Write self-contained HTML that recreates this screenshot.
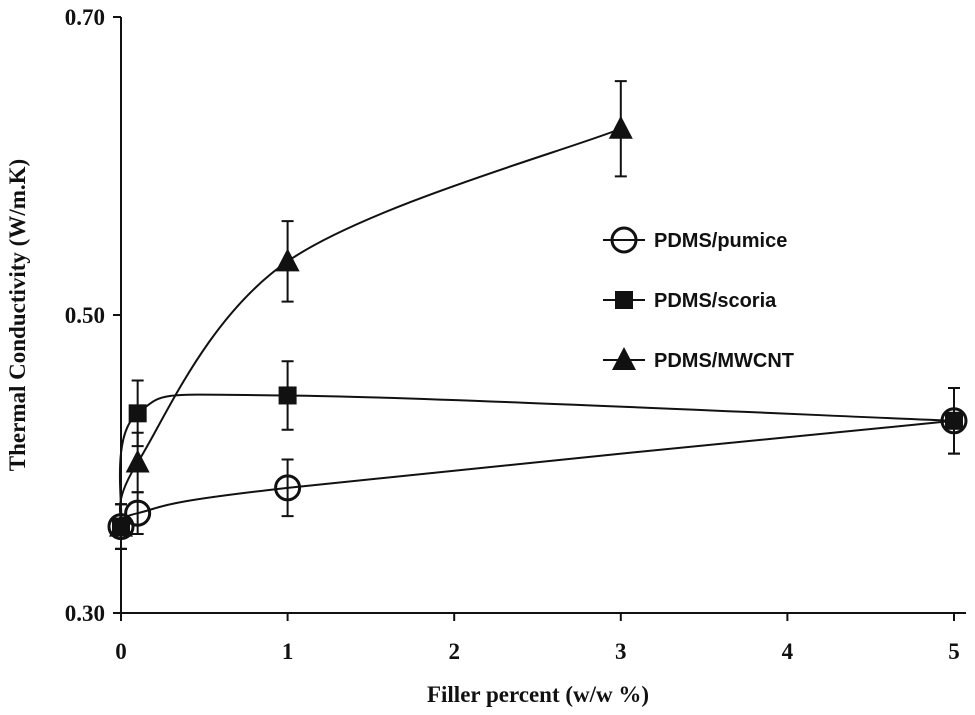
<!DOCTYPE html>
<html><head><meta charset="utf-8"><style>
body{margin:0;background:#fff;}
svg{display:block;}
.tk{font-family:"Liberation Serif",serif;font-weight:bold;font-size:23px;fill:#111;}
.ttl{font-family:"Liberation Serif",serif;font-weight:bold;font-size:23px;fill:#111;}
.lg{font-family:"Liberation Sans",sans-serif;font-weight:bold;font-size:20px;fill:#111;}
</style></head><body>
<svg id="chart" width="975" height="715"></svg>
<script>
const xTicks=[0,1,2,3,4,5];
const yTicks=[0.30,0.50,0.70];
const yTickLabels=["0.30","0.50","0.70"];
const seriesNames=["PDMS/pumice","PDMS/scoria","PDMS/MWCNT"];
const pumiceX=[0,0.1,1,5];
const pumiceY=[0.358,0.367,0.384,0.429];
const pumiceErr=[0.015,0.014,0.019,0.022];
const scoriaX=[0,0.1,1,5];
const scoriaY=[0.358,0.434,0.446,0.429];
const scoriaErr=[0.015,0.022,0.023,0.022];
const mwcntX=[0,0.1,1,3];
const mwcntY=[0.358,0.401,0.536,0.625];
const mwcntErr=[0.015,0.020,0.027,0.032];

const L=121,R=954,T=17,B=613;
const xs=v=>L+(v-0)/5*(R-L);
const ys=v=>B-(v-0.30)/0.40*(B-T);
const NS="http://www.w3.org/2000/svg";
const svg=document.getElementById('chart');
function mk(tag,attrs,parent){const e=document.createElementNS(NS,tag);for(const k in attrs)e.setAttribute(k,attrs[k]);(parent||svg).appendChild(e);return e;}

let ax=mk('line',{x1:L,y1:T,x2:L,y2:B,stroke:'#111','stroke-width':2});


ax=mk('line',{x1:L,y1:B,x2:R+12,y2:B,stroke:'#111','stroke-width':2});


xTicks.forEach(t=>{
  const x=xs(t);
  const tl=mk('line',{x1:x,y1:B,x2:x,y2:B+8,stroke:'#111','stroke-width':2});
  
  
  const tx=mk('text',{x:x,y:B+46,'text-anchor':'middle',class:'tk'});
  tx.textContent=t;
  
  
});
yTicks.forEach((t,i)=>{
  const y=ys(t);
  const tl=mk('line',{x1:L-8,y1:y,x2:L,y2:y,stroke:'#111','stroke-width':2});
  
  
  const tx=mk('text',{x:L-16,y:y+8,'text-anchor':'end',class:'tk'});
  tx.textContent=yTickLabels[i];
  
  
});
let t=mk('text',{x:538,y:702,'text-anchor':'middle',class:'ttl'});
t.textContent='Filler percent (w/w %)';


t=mk('text',{x:0,y:0,'text-anchor':'middle',class:'ttl',transform:'translate(25,315) rotate(-90)'});
t.textContent='Thermal Conductivity (W/m.K)';



function curve(X,Y){
  const p=X.map((x,i)=>[xs(x),ys(Y[i])]);
  let d=`M${p[0][0]},${p[0][1]}`;
  for(let i=0;i<p.length-1;i++){
    const p0=p[Math.max(i-1,0)],p1=p[i],p2=p[i+1],p3=p[Math.min(i+2,p.length-1)];
    const k=1/6;
    const c1=[p1[0]+(p2[0]-p0[0])*k,p1[1]+(p2[1]-p0[1])*k];
    const c2=[p2[0]-(p3[0]-p1[0])*k,p2[1]-(p3[1]-p1[1])*k];
    d+=` C${c1[0]},${c1[1]} ${c2[0]},${c2[1]} ${p2[0]},${p2[1]}`;
  }
  return d;
}
function marker(type,x,y,g){
  if(type===0) return mk('circle',{cx:x,cy:y,r:12,fill:'none',stroke:'#111','stroke-width':3},g);
  if(type===1) return mk('rect',{x:x-9,y:y-9,width:18,height:18,fill:'#111'},g);
  return mk('polygon',{points:`${x},${y-13} ${x+12},${y+10} ${x-12},${y+10}`,fill:'#111'},g);
}
const all=[[pumiceX,pumiceY,pumiceErr],[scoriaX,scoriaY,scoriaErr],[mwcntX,mwcntY,mwcntErr]];
const names=['pumice','scoria','mwcnt'];
all.forEach((s,si)=>{
  const [X,Y,E]=s;
  const g=mk('g',{});
  
  
  const path=mk('path',{d:curve(X,Y),fill:'none',stroke:'#111','stroke-width':2},g);
  
  
  X.forEach((x,i)=>{
    const px=xs(x),y1=ys(Y[i]-E[i]),y2=ys(Y[i]+E[i]);
    const eb=mk('path',{d:`M${px},${y1}V${y2}M${px-6},${y1}H${px+6}M${px-6},${y2}H${px+6}`,stroke:'#111','stroke-width':2,fill:'none'},g);
    
    
    const m=marker(si,px,ys(Y[i]),g);
    
    
  });
  const ly=240+si*60;
  const lg=mk('g',{},svg);
  
  
  mk('line',{x1:603,y1:ly,x2:645,y2:ly,stroke:'#111','stroke-width':2},lg);
  marker(si,624,ly,lg);
  const lt=mk('text',{x:654,y:ly+7,class:'lg'},lg);
  lt.textContent=seriesNames[si];
});
</script>
</body></html>
